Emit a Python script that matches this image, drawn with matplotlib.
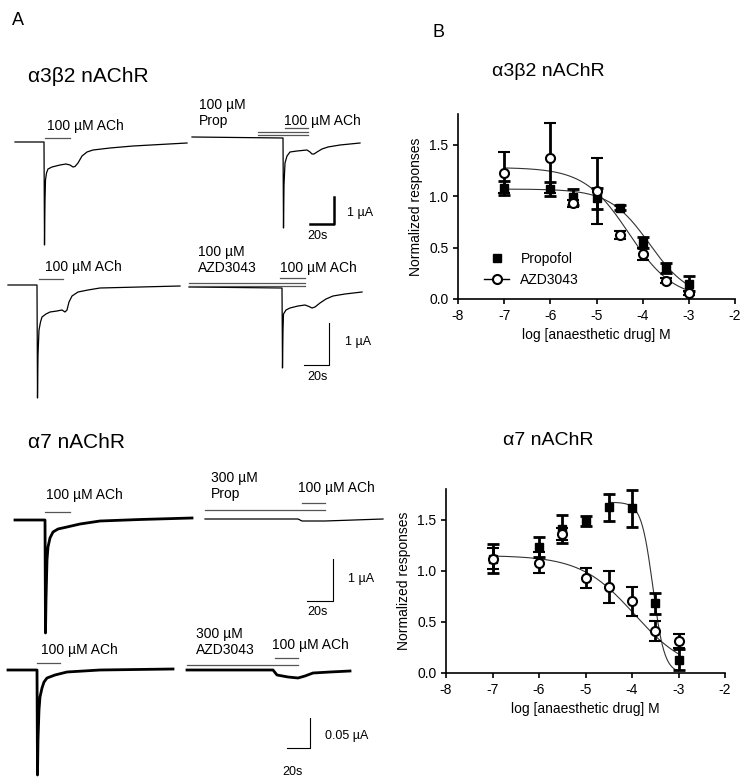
import numpy as np
import matplotlib
matplotlib.use("Agg")
import matplotlib.pyplot as plt

plt.rcParams['font.family'] = ['Liberation Sans', 'DejaVu Sans']
plt.rcParams['axes.unicode_minus'] = False

# ---- dose-response data ----
log_conc = [-7, -6, -5.5, -5, -4.5, -4, -3.5, -3]
a3b2_prop = [1.08, 1.07, 0.99, 0.98, 0.89, 0.55, 0.30, 0.15]
a3b2_prop_err = [0.07, 0.07, 0.08, 0.10, 0.02, 0.05, 0.05, 0.07]
a3b2_azd = [1.23, 1.37, 0.93, 1.05, 0.62, 0.44, 0.18, 0.06]
a3b2_azd_err = [0.20, 0.34, 0.03, 0.32, 0.04, 0.06, 0.02, 0.02]
a7_prop = [1.12, 1.23, 1.41, 1.49, 1.62, 1.61, 0.68, 0.13]
a7_prop_err = [0.14, 0.10, 0.14, 0.05, 0.13, 0.18, 0.10, 0.10]
a7_azd = [1.12, 1.08, 1.36, 0.93, 0.84, 0.70, 0.41, 0.31]
a7_azd_err = [0.10, 0.10, 0.06, 0.10, 0.16, 0.14, 0.10, 0.07]
# Hill fit parameters: top, logIC50, slope, x-range
fit_a3b2_prop = (1.07, -3.85, 1.0, -7, -3)
fit_a3b2_azd = (1.28, -4.3, 0.9, -7, -3)
fit_a7_prop = (1.67, -3.55, 3.5, -4.5, -3)
fit_a7_azd = (1.15, -3.95, 0.75, -7, -3)

# ---- trace key points (pixel coords) ----
tr_a1 = [(15,142),(44,142),(44.5,245),(45,200),(45.5,180),(46.5,173),(48,169),(52,167),(60,165),(66,164),(70,165),(73,167),(75,166.5),(78,163),(82,156),(87,152),(93,150),(110,148),(133,146),(160,144.5),(187,143)]
tr_a2 = [(192,137),(283,138),(283.5,228),(284,185),(285,163),(287,156),(290,152),(297,151),(307,150),(310,152),(312,154),(314,154),(317,152),(322,149),(328,147),(340,145),(360,143)]
tr_b1 = [(8,285),(37,285),(37.5,398),(38,355),(39,330),(40.5,322),(42,317),(46,314),(50,312),(57,311),(62,310),(65,312),(67,310),(69,302),(72,296),(78,292),(88,290),(100,288),(140,287),(180,286)]
tr_b2 = [(189,287),(282,288),(282.5,368),(283,330),(283.5,314),(286,310),(290,308),(298,306),(305,305),(309,306.5),(312,308),(315,307),(320,303),(326,299),(333,296),(345,294),(362,292)]
tr_c1 = [(15,520),(45,520),(45.5,633),(46,600),(47,560),(48,547),(50,538),(53,532),(58,529),(67,527),(80,524),(100,521),(140,519.5),(192,518)]
tr_c2 = [(205,519),(298,519),(302,521),(325,521),(383,519)]
tr_d1 = [(8,670),(37,670),(37.5,775),(38,740),(39,710),(40,697),(42,688),(44,682),(47,678),(55,675),(67,672),(100,670),(173,669)]
tr_d2 = [(187,670),(273,670),(277,675),(288,677),(298,678),(305,676),(313,673),(330,672),(350,671)]

fig = plt.figure(figsize=(7.47, 7.84), dpi=100)
W, H = 747, 784
bg = fig.add_axes([0, 0, 1, 1])
bg.set_xlim(0, W); bg.set_ylim(H, 0); bg.axis('off')

for tr, lw in [(tr_a1,0.9),(tr_a2,0.9),(tr_b1,0.9),(tr_b2,0.9),(tr_c1,2.0),(tr_c2,0.9),(tr_d1,2.0),(tr_d2,2.0)]:
    xs, ys = zip(*tr)
    bg.plot(xs, ys, color='black', lw=lw, solid_joinstyle='round')

gray = '#555555'
def bar(x0, x1, y, double=False):
    bg.plot([x0, x1], [y, y], color=gray, lw=0.9)
    if double:
        bg.plot([x0, x1], [y+2.5, y+2.5], color=gray, lw=0.9)

def txt(x, y, s, size=10, **kw):
    bg.text(x, y, s, fontsize=size, va='center', ha='left', **kw)

# alpha3beta2 traces annotations
bar(45, 70, 138); txt(47, 126, '100 µM ACh')
bar(258, 308, 132, True); bar(285, 308, 128)
txt(199, 105, '100 µM'); txt(199, 121, 'Prop'); txt(284, 121, '100 µM ACh')
bg.plot([310, 334, 334], [224, 224, 197], color='black', lw=1.8)
txt(347, 213, '1 µA', 9); txt(307, 236, '20s', 9)
bar(39, 63, 279); txt(45, 267, '100 µM ACh')
bar(189, 305, 283, True); bar(280, 305, 278)
txt(198, 252, '100 µM'); txt(198, 268, 'AZD3043'); txt(280, 268, '100 µM ACh')
bg.plot([304, 329, 329], [365, 365, 323], color='black', lw=0.8)
txt(345, 342, '1 µA', 9); txt(307, 377, '20s', 9)

# alpha7 traces annotations
bar(45, 70, 512); txt(46, 495, '100 µM ACh')
bar(205, 325, 510); bar(302, 325, 503)
txt(211, 478, '300 µM'); txt(211, 494, 'Prop'); txt(298, 488, '100 µM ACh')
bg.plot([307, 333, 333], [601, 601, 559], color='black', lw=0.8)
txt(348, 579, '1 µA', 9); txt(307, 612, '20s', 9)
bar(37, 60, 663); txt(41, 650, '100 µM ACh')
bar(187, 298, 665); bar(275, 298, 658)
txt(196, 634, '300 µM'); txt(196, 650, 'AZD3043'); txt(272, 645, '100 µM ACh')
bg.plot([287, 310, 310], [748, 748, 718], color='black', lw=0.8)
txt(325, 736, '0.05 µA', 9); txt(282, 772, '20s', 9)

# panel labels & titles
txt(12, 20, 'A', 13); txt(432, 32, 'B', 13)
txt(28, 76, 'α3β2 nAChR', 15); txt(28, 442, 'α7 nAChR', 15)
bg.text(548, 71, 'α3β2 nAChR', fontsize=14, ha='center', va='center')
bg.text(548, 440, 'α7 nAChR', fontsize=14, ha='center', va='center')

def hill(x, top, lic, s):
    return top / (1 + 10 ** (s * (x - lic)))

def dr_axes(rect, prop, perr, azd, aerr, fp, fa, legend):
    l, t, r, b = rect
    ax = fig.add_axes([l/W, 1-b/H, (r-l)/W, (b-t)/H])
    ax.set_xlim(-8, -2); ax.set_ylim(0, 1.8)
    for f in (fp, fa):
        xx = np.linspace(f[3], f[4], 200)
        ax.plot(xx, hill(xx, *f[:3]), color='#333333', lw=0.8)
    ax.errorbar(log_conc, prop, yerr=perr, fmt='s', color='black', ms=6,
                capsize=4, elinewidth=2, capthick=2, label='Propofol')
    ax.errorbar(log_conc, azd, yerr=aerr, fmt='o', mfc='white', mec='black', color='black',
                ms=6.5, mew=1.5, capsize=4, elinewidth=2, capthick=2, label='AZD3043')
    for sp in ('top', 'right'):
        ax.spines[sp].set_visible(False)
    ax.spines['left'].set_linewidth(1.2); ax.spines['bottom'].set_linewidth(1.2)
    ax.set_xticks(range(-8, -1)); ax.set_yticks([0, 0.5, 1.0, 1.5])
    ax.set_yticklabels(['0.0', '0.5', '1.0', '1.5'])
    ax.tick_params(labelsize=10, width=1.2)
    ax.set_xlabel('log [anaesthetic drug] M', fontsize=10)
    ax.set_ylabel('Normalized responses', fontsize=10)
    if legend:
        from matplotlib.lines import Line2D
        h = [Line2D([], [], marker='s', color='black', ls='none', ms=6),
             Line2D([], [], marker='o', mfc='white', mec='black', color='black', ms=6.5, mew=1.5, lw=1)]
        ax.legend(h, ['Propofol', 'AZD3043'], loc='lower left', bbox_to_anchor=(0.05, 0.0),
                  frameon=False, fontsize=10, handlelength=1.8)
    return ax

dr_axes((458, 114, 735, 299), a3b2_prop, a3b2_prop_err, a3b2_azd, a3b2_azd_err,
        fit_a3b2_prop, fit_a3b2_azd, True)
dr_axes((446, 489, 725, 673), a7_prop, a7_prop_err, a7_azd, a7_azd_err,
        fit_a7_prop, fit_a7_azd, False)

fig.savefig('out.png', dpi=100)
